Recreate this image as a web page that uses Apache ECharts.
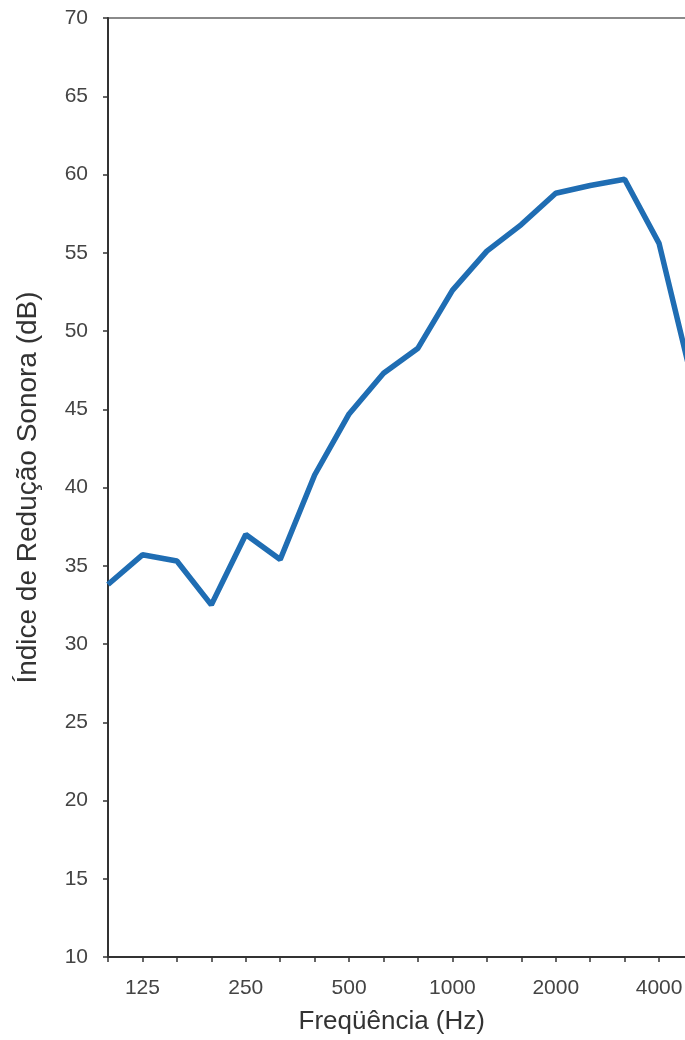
<!DOCTYPE html>
<html>
<head>
<meta charset="utf-8">
<script src="https://cdn.jsdelivr.net/npm/echarts@6/dist/echarts.min.js"></script>
<style>
html,body{margin:0;padding:0;background:#fff;overflow:hidden;width:685px;height:1040px;}
#chart{width:700px;height:1040px;}
</style>
</head>
<body>
<div id="chart"></div>
<script>
const categories = ['100','125','160','200','250','315','400','500','630','800','1000','1250','1600','2000','2500','3150','4000','5000'];
const shownLabels = ['125','250','500','1000','2000','4000'];
const values = [33.8, 35.7, 35.3, 32.5, 37.0, 35.4, 40.8, 44.7, 47.3, 48.9, 52.6, 55.1, 56.8, 58.8, 59.3, 59.7, 55.6, 46.5];
const yTicks = {min: 10, max: 70, interval: 5};
const xTitle = 'Freqüência (Hz)';
const yTitle = 'Índice de Redução Sonora (dB)';

const chart = echarts.init(document.getElementById('chart'), null, {renderer: 'canvas'});
const font = 'Liberation Sans, Arial, sans-serif';
chart.setOption({
  animation: false,
  backgroundColor: '#fff',
  grid: {left: 108, top: 18, bottom: 82, right: 6.5, show: true, borderColor: '#8a8a8a', borderWidth: 2, backgroundColor: 'transparent'},
  xAxis: {
    type: 'category',
    data: categories,
    boundaryGap: false,
    name: xTitle,
    nameLocation: 'middle',
    nameGap: 52,
    nameTextStyle: {fontFamily: font, fontSize: 26, color: '#333', padding: [0, 18, 0, 0]},
    axisLine: {lineStyle: {color: '#333', width: 2}},
    axisTick: {show: true, length: 5, interval: 0, lineStyle: {color: '#333', width: 1.5}},
    axisLabel: {
      interval: 0,
      margin: 21,
      fontFamily: font, fontSize: 21, color: '#444',
      formatter: v => shownLabels.includes(v) ? v : ''
    },
    splitLine: {show: false}
  },
  yAxis: {
    type: 'value',
    min: yTicks.min, max: yTicks.max, interval: yTicks.interval,
    name: yTitle,
    nameLocation: 'middle',
    nameGap: 66,
    nameTextStyle: {fontFamily: font, fontSize: 28, color: '#333'},
    axisLine: {show: true, lineStyle: {color: '#333', width: 2}},
    axisTick: {show: true, length: 5, lineStyle: {color: '#333', width: 1.5}},
    axisLabel: {margin: 20, fontFamily: font, fontSize: 21, color: '#444'},
    splitLine: {show: false}
  },
  series: [{
    type: 'line',
    data: values,
    symbol: 'none',
    lineStyle: {color: '#1f6db3', width: 5.5},
    itemStyle: {color: '#1f6db3'}
  }]
});
</script>
</body>
</html>
